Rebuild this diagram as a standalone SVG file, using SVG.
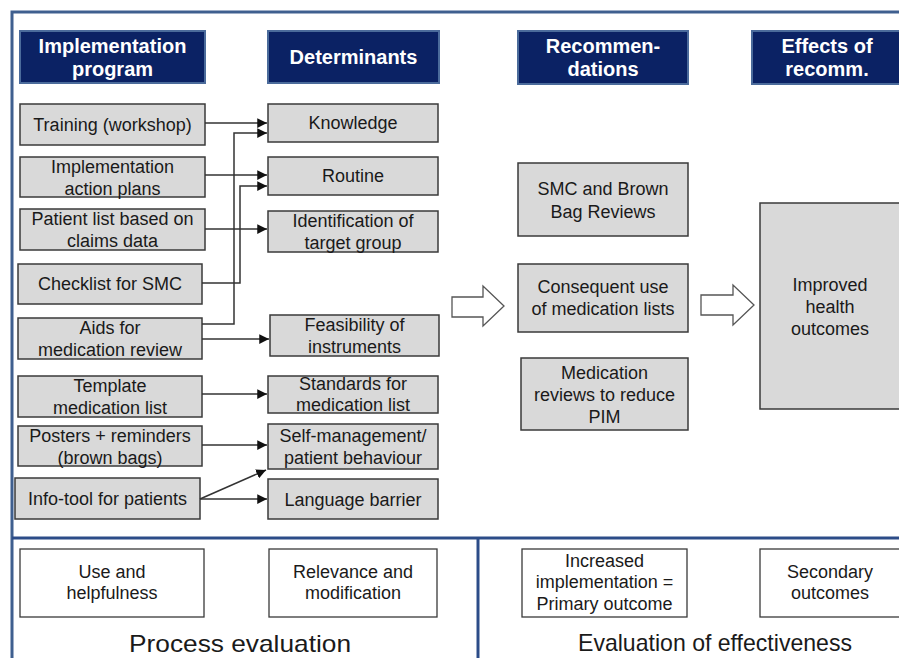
<svg xmlns="http://www.w3.org/2000/svg" width="899" height="658" viewBox="0 0 899 658">
<style>
.frame{fill:none;stroke:#3f5f8f;stroke-width:3}
.div{stroke:#2c4c88;stroke-width:3}
.hdr rect{fill:#0b2264;stroke:#4b6b9b;stroke-width:2}
.hdr text{fill:#fff;font-family:"Liberation Sans",Arial,sans-serif;font-weight:bold;font-size:20px;text-anchor:middle}
.box rect{fill:#d9d9d9;stroke:#3a3a3a;stroke-width:1.5}
.wbox rect{fill:#fff;stroke:#3a3a3a;stroke-width:1.3}
.box text,.wbox text{fill:#1a1a1a;font-family:"Liberation Sans",Arial,sans-serif;font-size:18px;text-anchor:middle}
.sec{fill:#1a1a1a;font-family:"Liberation Sans",Arial,sans-serif;font-size:24px;text-anchor:middle}
.con path{fill:none;stroke:#333;stroke-width:1.5;marker-end:url(#ah)}
.big polygon{fill:#fff;stroke:#555;stroke-width:1.3}
</style>
<defs>
<marker id="ah" viewBox="0 0 10 10" refX="10" refY="5" markerWidth="6.5" markerHeight="6.5" markerUnits="strokeWidth" orient="auto">
<path d="M0,0 L10,5 L0,10 z" fill="#111"/>
</marker>
</defs>
<rect width="899" height="658" fill="#fff"/>
<rect class="frame" x="12" y="12" width="900" height="660"/>
<line class="div" x1="12" y1="538" x2="899" y2="538"/>
<line class="div" x1="478" y1="538" x2="478" y2="658"/>

<g id="hdr-impl" class="hdr"><rect x="20" y="31" width="185" height="52"/><text x="112.5" y="53">Implementation</text><text x="112.5" y="76">program</text></g>
<g id="hdr-det" class="hdr"><rect x="268" y="31" width="171" height="52"/><text x="353.5" y="64">Determinants</text></g>
<g id="hdr-rec" class="hdr"><rect x="518" y="31" width="170" height="53"/><text x="603" y="53">Recommen-</text><text x="603" y="76">dations</text></g>
<g id="hdr-eff" class="hdr"><rect x="752" y="31" width="152" height="53"/><text x="827" y="53">Effects of</text><text x="827" y="76">recomm.</text></g>

<g id="n-training" class="box"><rect x="20" y="104" width="185" height="41"/><text x="112.5" y="131">Training (workshop)</text></g>
<g id="n-actionplans" class="box"><rect x="20" y="157" width="185" height="40"/><text x="112.5" y="173">Implementation</text><text x="112.5" y="195">action plans</text></g>
<g id="n-patientlist" class="box"><rect x="20" y="209" width="185" height="41"/><text x="112.5" y="225">Patient list based on</text><text x="112.5" y="247">claims data</text></g>
<g id="n-checklist" class="box"><rect x="18" y="264" width="184" height="40"/><text x="110" y="290">Checklist for SMC</text></g>
<g id="n-aids" class="box"><rect x="18" y="318" width="184" height="41"/><text x="110" y="334">Aids for</text><text x="110" y="356">medication review</text></g>
<g id="n-template" class="box"><rect x="18" y="376" width="184" height="41"/><text x="110" y="392">Template</text><text x="110" y="414">medication list</text></g>
<g id="n-posters" class="box"><rect x="18" y="426" width="184" height="40"/><text x="110" y="442">Posters + reminders</text><text x="110" y="464">(brown bags)</text></g>
<g id="n-infotool" class="box"><rect x="15" y="478" width="185" height="41"/><text x="107.5" y="505">Info-tool for patients</text></g>

<g id="n-knowledge" class="box"><rect x="268" y="104" width="170" height="38"/><text x="353" y="129">Knowledge</text></g>
<g id="n-routine" class="box"><rect x="268" y="157" width="170" height="38"/><text x="353" y="182">Routine</text></g>
<g id="n-identification" class="box"><rect x="268" y="211" width="170" height="41"/><text x="353" y="227">Identification of</text><text x="353" y="249">target group</text></g>
<g id="n-feasibility" class="box"><rect x="270" y="315" width="169" height="41"/><text x="354.5" y="331">Feasibility of</text><text x="354.5" y="353">instruments</text></g>
<g id="n-standards" class="box"><rect x="268" y="376" width="170" height="37"/><text x="353" y="390">Standards for</text><text x="353" y="411">medication list</text></g>
<g id="n-selfmgmt" class="box"><rect x="268" y="424" width="170" height="45"/><text x="353" y="442">Self-management/</text><text x="353" y="464">patient behaviour</text></g>
<g id="n-language" class="box"><rect x="268" y="479" width="170" height="40"/><text x="353" y="506">Language barrier</text></g>

<g id="n-smc" class="box"><rect x="518" y="163" width="170" height="73"/><text x="603" y="195">SMC and Brown</text><text x="603" y="218">Bag Reviews</text></g>
<g id="n-consequent" class="box"><rect x="518" y="264" width="170" height="68"/><text x="603" y="293">Consequent use</text><text x="603" y="315">of medication lists</text></g>
<g id="n-medreviews" class="box"><rect x="521" y="358" width="167" height="72"/><text x="604.5" y="379">Medication</text><text x="604.5" y="401">reviews to reduce</text><text x="604.5" y="423">PIM</text></g>
<g id="n-improved" class="box"><rect x="760" y="203" width="145" height="206"/><text x="830" y="291">Improved</text><text x="830" y="313">health</text><text x="830" y="335">outcomes</text></g>

<g id="n-use" class="wbox"><rect x="20" y="549" width="184" height="68"/><text x="112" y="578">Use and</text><text x="112" y="599">helpfulness</text></g>
<g id="n-relevance" class="wbox"><rect x="269" y="549" width="168" height="68"/><text x="353" y="578">Relevance and</text><text x="353" y="599">modification</text></g>
<g id="n-increased" class="wbox"><rect x="522" y="549" width="165" height="68"/><text x="604.5" y="567">Increased</text><text x="604.5" y="588">implementation =</text><text x="604.5" y="610">Primary outcome</text></g>
<g id="n-secondary" class="wbox"><rect x="760" y="549" width="145" height="68"/><text x="830" y="578">Secondary</text><text x="830" y="599">outcomes</text></g>

<text class="sec" x="240" y="652" textLength="222" lengthAdjust="spacingAndGlyphs">Process evaluation</text>
<text class="sec" x="715" y="651" textLength="274" lengthAdjust="spacingAndGlyphs">Evaluation of effectiveness</text>

<g id="connectors">
<g class="con">
<path d="M205,123 H267"/>
<path d="M202,324 H234 V133 H267"/>
<path d="M205,175 H267"/>
<path d="M202,283 H240 V186 H267"/>
<path d="M205,229 H267"/>
<path d="M202,339 H269"/>
<path d="M202,394 H267"/>
<path d="M202,445 H267"/>
<path d="M200,499 L266,470"/>
<path d="M200,499 H267"/>
</g>
<g class="big">
<polygon points="452,297 483,297 483,286 504,306 483,326 483,317 452,317"/>
<polygon points="701,295 733,295 733,285 754,305 733,325 733,315 701,315"/>
</g>
</g>
</svg>
